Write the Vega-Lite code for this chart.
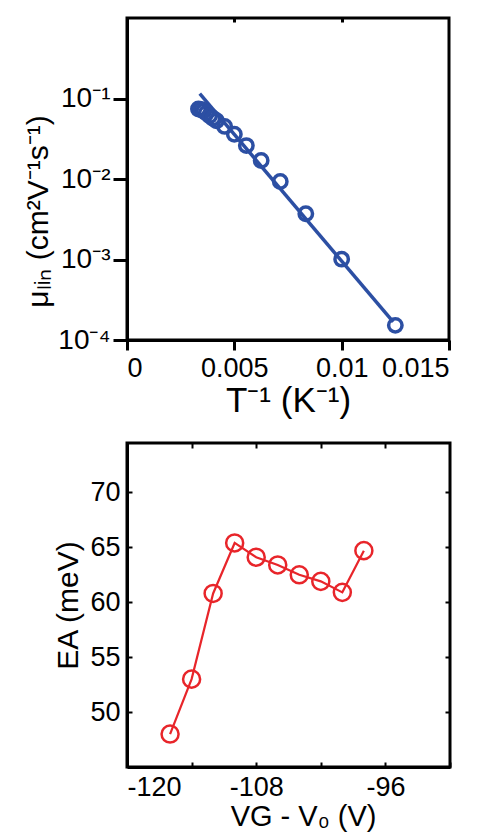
{
  "$schema": "https://vega.github.io/schema/vega-lite/v6.json",
  "background": "white",
  "padding": {"left": 22, "top": 15, "right": 5, "bottom": 0},
  "spacing": 20,
  "config": {
    "font": "Liberation Sans",
    "view": {"stroke": "black", "strokeWidth": 3},
    "axis": {
      "labelFont": "Liberation Sans", "titleFont": "Liberation Sans",
      "labelColor": "black", "titleColor": "black",
      "domainColor": "black", "domainWidth": 3,
      "tickColor": "black", "tickWidth": 3,
      "grid": false, "titleFontWeight": "normal",
      "labelFontSize": 27, "titleFontSize": 28
    }
  },
  "datasets": {
    "mobility": [
      {"invT": 0.00333, "mu": 0.074},
      {"invT": 0.00345, "mu": 0.073},
      {"invT": 0.00357, "mu": 0.070},
      {"invT": 0.00370, "mu": 0.066},
      {"invT": 0.00385, "mu": 0.061},
      {"invT": 0.00400, "mu": 0.057},
      {"invT": 0.00417, "mu": 0.053},
      {"invT": 0.00455, "mu": 0.045},
      {"invT": 0.00500, "mu": 0.036},
      {"invT": 0.00556, "mu": 0.026},
      {"invT": 0.00625, "mu": 0.017},
      {"invT": 0.00714, "mu": 0.0093},
      {"invT": 0.00833, "mu": 0.0037},
      {"invT": 0.0100, "mu": 0.00101},
      {"invT": 0.0125, "mu": 0.000152}
    ],
    "fit": [
      {"invT": 0.00339, "mu": 0.1146},
      {"invT": 0.0124, "mu": 0.000168}
    ],
    "activation": [
      {"vg": -116, "ea": 48.0},
      {"vg": -114, "ea": 53.0},
      {"vg": -112, "ea": 60.8},
      {"vg": -110, "ea": 65.4},
      {"vg": -108, "ea": 64.1},
      {"vg": -106, "ea": 63.4},
      {"vg": -104, "ea": 62.5},
      {"vg": -102, "ea": 61.9},
      {"vg": -100, "ea": 60.9},
      {"vg": -98, "ea": 64.7}
    ]
  },
  "vconcat": [
    {
      "width": 322,
      "height": 322,
      "resolve": {"axis": {"x": "independent", "y": "independent"}},
      "layer": [
        {
          "data": {"name": "fit"},
          "mark": {"type": "line", "color": "#2c4fa3", "strokeWidth": 3.5},
          "encoding": {
            "x": {
              "field": "invT", "type": "quantitative",
              "scale": {"domain": [0, 0.015], "nice": false, "zero": false},
              "axis": {
                "title": "T⁻¹ (K⁻¹)", "titleFontSize": 35, "titlePadding": 2,
                "values": [0, 0.005, 0.01, 0.015], "format": ".3~f",
                "tickSize": 10, "labelPadding": 5, "labelFontSize": 27
              }
            },
            "y": {
              "field": "mu", "type": "quantitative",
              "scale": {"type": "log", "domain": [0.0001, 1], "nice": false},
              "axis": {
                "title": "μₗᵢₙ (cm²V⁻¹s⁻¹)", "titleFontSize": 30, "titlePadding": 4, "titleY": 193,
                "values": [0.0001, 0.001, 0.01, 0.1],
                "labelExpr": "datum.value < 0.0005 ? '10⁻⁴' : datum.value < 0.005 ? '10⁻³' : datum.value < 0.05 ? '10⁻²' : '10⁻¹'",
                "tickSize": 14, "labelPadding": 3, "labelFontSize": 28
              }
            }
          }
        },
        {
          "data": {"name": "mobility"},
          "mark": {"type": "point", "shape": "circle", "filled": false, "color": "#2c4fa3", "strokeWidth": 3.5, "size": 180, "opacity": 1},
          "encoding": {
            "x": {
              "field": "invT", "type": "quantitative",
              "scale": {"domain": [0, 0.015], "nice": false, "zero": false},
              "axis": {
                "orient": "top", "title": null, "labels": false, "domain": false,
                "values": [0.005, 0.01], "tickSize": -4, "tickWidth": 3
              }
            },
            "y": {
              "field": "mu", "type": "quantitative",
              "scale": {"type": "log", "domain": [0.0001, 1], "nice": false},
              "axis": null
            }
          }
        }
      ]
    },
    {
      "width": 323,
      "height": 324,
      "data": {"name": "activation"},
      "resolve": {"axis": {"x": "independent", "y": "independent"}},
      "layer": [
        {
          "mark": {"type": "line", "color": "#e8252a", "strokeWidth": 2.2},
          "encoding": {
            "x": {
              "field": "vg", "type": "quantitative",
              "scale": {"domain": [-120, -90], "nice": false, "zero": false},
              "axis": {
                "title": "VG - V₀ (V)", "titleFontSize": 29, "titlePadding": 2, "titleX": 176,
                "values": [-120, -114, -108, -102, -96, -90],
                "labelExpr": "(datum.value == -120 || datum.value == -108 || datum.value == -96) ? '-' + format(-datum.value, 'd') : ''",
                "tickSize": -5, "tickWidth": 2, "labelPadding": 12, "labelFontSize": 27
              }
            },
            "y": {
              "field": "ea", "type": "quantitative",
              "scale": {"domain": [45, 74.5], "nice": false, "zero": false},
              "axis": {
                "title": "EA (meV)", "titleFontSize": 30, "titlePadding": 6,
                "values": [50, 55, 60, 65, 70],
                "tickSize": -5, "tickWidth": 2, "labelPadding": 12, "labelFontSize": 27
              }
            }
          }
        },
        {
          "mark": {"type": "point", "shape": "circle", "filled": false, "color": "#e8252a", "strokeWidth": 2.5, "size": 290, "opacity": 1},
          "encoding": {
            "x": {
              "field": "vg", "type": "quantitative",
              "scale": {"domain": [-120, -90], "nice": false, "zero": false},
              "axis": {
                "orient": "top", "title": null, "labels": false, "domain": false,
                "values": [-114, -108, -102, -96], "tickSize": -5, "tickWidth": 2
              }
            },
            "y": {
              "field": "ea", "type": "quantitative",
              "scale": {"domain": [45, 74.5], "nice": false, "zero": false},
              "axis": {
                "orient": "right", "title": null, "labels": false, "domain": false,
                "values": [50, 55, 60, 65, 70], "tickSize": -5, "tickWidth": 2
              }
            }
          }
        }
      ]
    }
  ]
}
